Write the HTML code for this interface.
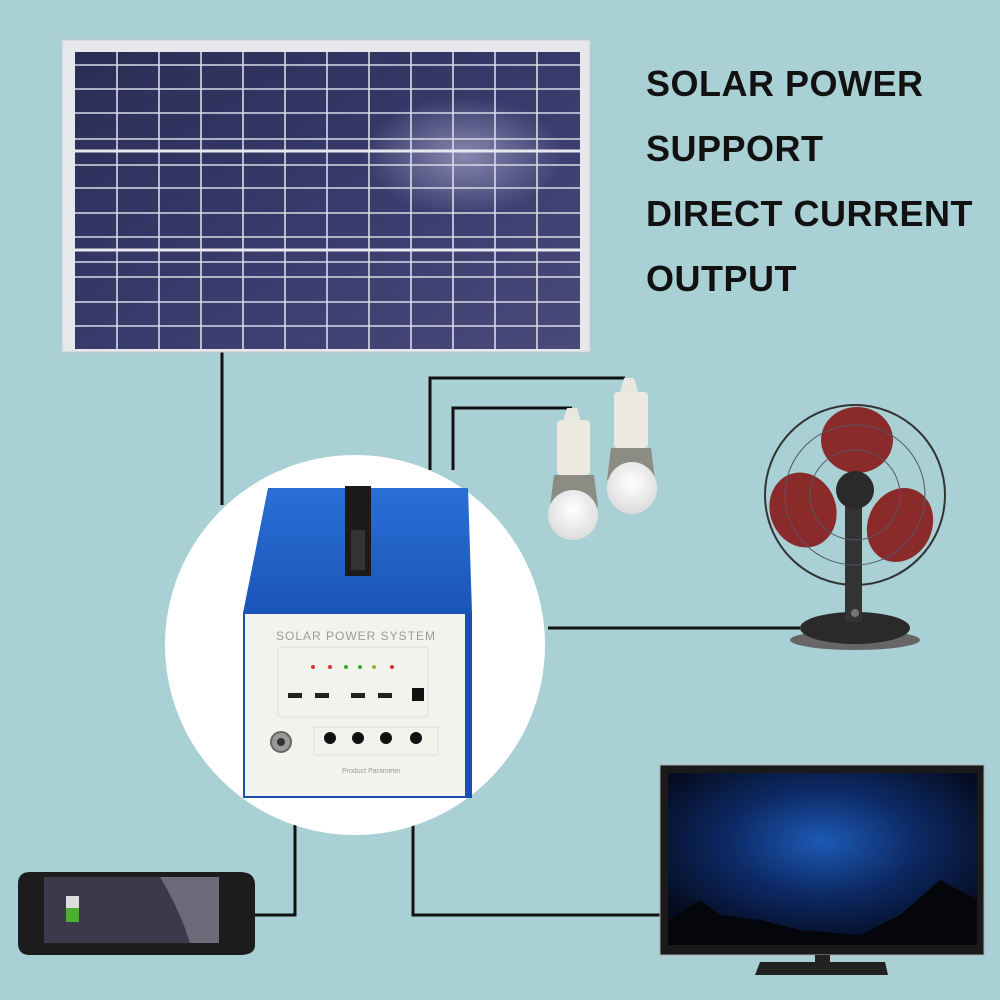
<!DOCTYPE html>
<html><head><meta charset="utf-8"><style>
html,body{margin:0;padding:0}
body{width:1000px;height:1000px;background:#a9d1d5;position:relative;overflow:hidden;font-family:"Liberation Sans",sans-serif}
.t{position:absolute;left:646px;font-weight:bold;font-size:36px;color:#111;letter-spacing:0.5px;white-space:nowrap}
</style></head><body>
<svg width="1000" height="1000" style="position:absolute;left:0;top:0">
<defs>
<linearGradient id="pg" x1="0" y1="0" x2="1" y2="1">
<stop offset="0" stop-color="#2a2d55"/><stop offset="0.6" stop-color="#3a3d6e"/><stop offset="1" stop-color="#4a4a7a"/></linearGradient>
<radialGradient id="gl" cx="0.77" cy="0.35" r="0.2"><stop offset="0" stop-color="#9a9ac0" stop-opacity="0.8"/><stop offset="1" stop-color="#9a9ac0" stop-opacity="0"/></radialGradient>
<radialGradient id="tv" cx="0.5" cy="0.4" r="0.6"><stop offset="0" stop-color="#1d5ab5"/><stop offset="0.5" stop-color="#0d2a66"/><stop offset="1" stop-color="#050d22"/></radialGradient>
<linearGradient id="bl" x1="0" y1="0" x2="0" y2="1"><stop offset="0" stop-color="#2a6fd6"/><stop offset="1" stop-color="#1a55b8"/></linearGradient>
<radialGradient id="bulb" cx="0.5" cy="0.4" r="0.6"><stop offset="0" stop-color="#ffffff"/><stop offset="1" stop-color="#dcdcdc"/></radialGradient>
</defs>
<g stroke="#111" stroke-width="3" fill="none">
<path d="M222 350 V505"/>
<path d="M430 470 V378 H625"/>
<path d="M453 470 V408 H572"/>
<path d="M548 628 H800"/>
<path d="M295 825 V915 H252"/>
<path d="M413 825 V915 H662"/>
</g>
<rect x="62" y="40" width="528" height="312" fill="#e6e8ec" stroke="#c8cace"/>
<rect x="75" y="52" width="505" height="297" fill="url(#pg)"/>
<rect x="75" y="52" width="505" height="297" fill="url(#gl)"/>
<g stroke="#d8dae6" stroke-width="1.6">
<line x1="117" y1="52" x2="117" y2="349"/><line x1="159" y1="52" x2="159" y2="349"/><line x1="201" y1="52" x2="201" y2="349"/><line x1="243" y1="52" x2="243" y2="349"/><line x1="285" y1="52" x2="285" y2="349"/><line x1="327" y1="52" x2="327" y2="349"/><line x1="369" y1="52" x2="369" y2="349"/><line x1="411" y1="52" x2="411" y2="349"/><line x1="453" y1="52" x2="453" y2="349"/><line x1="495" y1="52" x2="495" y2="349"/><line x1="537" y1="52" x2="537" y2="349"/>
<line x1="75" y1="65" x2="580" y2="65"/><line x1="75" y1="89" x2="580" y2="89"/><line x1="75" y1="113" x2="580" y2="113"/><line x1="75" y1="139" x2="580" y2="139"/><line x1="75" y1="165" x2="580" y2="165"/><line x1="75" y1="188" x2="580" y2="188"/><line x1="75" y1="213" x2="580" y2="213"/><line x1="75" y1="237" x2="580" y2="237"/><line x1="75" y1="262" x2="580" y2="262"/><line x1="75" y1="277" x2="580" y2="277"/><line x1="75" y1="302" x2="580" y2="302"/><line x1="75" y1="326" x2="580" y2="326"/>
</g>
<g stroke="#e8e8f0" stroke-width="3"><line x1="75" y1="151" x2="580" y2="151"/><line x1="75" y1="250" x2="580" y2="250"/></g>
<circle cx="355" cy="645" r="190" fill="#fff"/>
<path d="M268 488 L468 488 L472 613 L243 613 Z" fill="url(#bl)"/>
<rect x="243" y="613" width="229" height="185" fill="#1a4fb0"/>
<rect x="245" y="614" width="220" height="182" fill="#f3f3ee"/>
<rect x="345" y="486" width="26" height="90" fill="#1b1b1b"/>
<rect x="351" y="530" width="14" height="40" fill="#333"/>
<text x="356" y="640" font-size="12" fill="#9a9a9a" text-anchor="middle" letter-spacing="1" font-family="Liberation Sans">SOLAR  POWER  SYSTEM</text>
<rect x="278" y="647" width="150" height="70" rx="3" fill="none" stroke="#ddd"/>
<g fill="#d33"><circle cx="313" cy="667" r="2"/><circle cx="330" cy="667" r="2"/><circle cx="392" cy="667" r="2"/></g>
<g fill="#3a3"><circle cx="346" cy="667" r="2"/><circle cx="360" cy="667" r="2"/></g>
<circle cx="374" cy="667" r="2" fill="#aa3"/>
<g fill="#222"><rect x="288" y="693" width="14" height="5"/><rect x="315" y="693" width="14" height="5"/><rect x="351" y="693" width="14" height="5"/><rect x="378" y="693" width="14" height="5"/></g>
<rect x="412" y="688" width="12" height="13" fill="#111"/>
<rect x="314" y="727" width="124" height="28" fill="none" stroke="#ddd"/>
<g fill="#111"><circle cx="330" cy="738" r="6"/><circle cx="358" cy="738" r="6"/><circle cx="386" cy="738" r="6"/><circle cx="416" cy="738" r="6"/></g>
<circle cx="281" cy="742" r="10" fill="#999" stroke="#666" stroke-width="2"/><circle cx="281" cy="742" r="4" fill="#333"/>
<text x="342" y="773" font-size="7" fill="#999" font-family="Liberation Sans">Product Parameter</text>
<g>
<path d="M567 408 h10 l4 14 h-18 z" fill="#e8e8e0"/>
<rect x="557" y="420" width="33" height="55" rx="4" fill="#eceae0"/>
<path d="M554 475 h40 l4 32 h-48 z" fill="#8c8c84"/>
<ellipse cx="573" cy="515" rx="25" ry="25" fill="url(#bulb)"/>
<path d="M624 378 h10 l4 14 h-18 z" fill="#e8e8e0"/>
<rect x="614" y="392" width="34" height="56" rx="4" fill="#eceae0"/>
<path d="M611 448 h40 l4 32 h-48 z" fill="#8c8c84"/>
<ellipse cx="632" cy="488" rx="25" ry="26" fill="url(#bulb)"/>
</g>
<ellipse cx="855" cy="640" rx="65" ry="10" fill="#666"/>
<ellipse cx="855" cy="628" rx="55" ry="16" fill="#2a2a2a"/>
<rect x="845" y="500" width="17" height="122" fill="#333"/>
<g fill="#8a2a2a">
<ellipse cx="857" cy="440" rx="36" ry="33"/>
<ellipse cx="803" cy="510" rx="33" ry="38" transform="rotate(-20 803 510)"/>
<ellipse cx="900" cy="525" rx="32" ry="38" transform="rotate(25 900 525)"/>
</g>
<circle cx="855" cy="495" r="90" fill="none" stroke="#333" stroke-width="2"/>
<circle cx="855" cy="495" r="70" fill="none" stroke="#556" stroke-width="1"/>
<circle cx="855" cy="495" r="45" fill="none" stroke="#556" stroke-width="1"/>
<circle cx="855" cy="490" r="19" fill="#2a2a2a"/>
<circle cx="855" cy="613" r="4" fill="#777"/>
<rect x="660" y="765" width="324" height="190" fill="#1a1a1a" stroke="#aaa"/>
<rect x="668" y="773" width="309" height="172" fill="url(#tv)"/>
<path d="M668 920 L700 900 L720 915 L760 920 L800 930 L860 935 L900 915 L940 880 L977 900 V945 H668 Z" fill="#04060c"/>
<rect x="815" y="955" width="15" height="9" fill="#222"/>
<path d="M760 962 H885 L888 975 H755 Z" fill="#222"/>
<path d="M30 872 H240 Q255 872 255 885 V945 Q255 955 240 955 H30 Q18 955 18 943 V884 Q18 872 30 872 Z" fill="#1c1c1c"/>
<rect x="44" y="877" width="175" height="66" fill="#3a3a4c"/>
<path d="M160 877 H219 V943 H190 Q180 910 160 877 Z" fill="#6a6a78"/>
<rect x="66" y="896" width="13" height="12" fill="#ddd"/>
<rect x="66" y="908" width="13" height="14" fill="#4caf32"/>
</svg>
<div class="t" style="top:63px">SOLAR POWER</div>
<div class="t" style="top:128px">SUPPORT</div>
<div class="t" style="top:193px">DIRECT CURRENT</div>
<div class="t" style="top:258px">OUTPUT</div>
</body></html>
